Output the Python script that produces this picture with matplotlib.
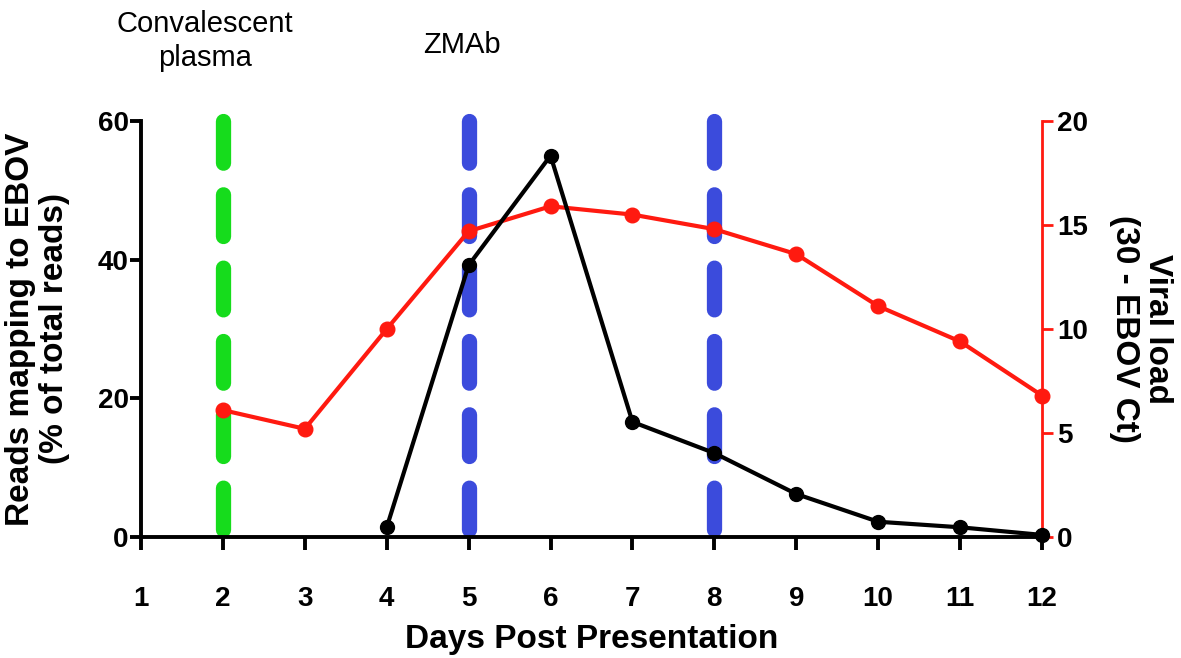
import matplotlib.pyplot as plt

plt.rcParams['font.family'] = ['Liberation Sans', 'DejaVu Sans']

days = [1, 2, 3, 4, 5, 6, 7, 8, 9, 10, 11, 12]
read_days = [4, 5, 6, 7, 8, 9, 10, 11, 12]
reads_pct = [1.4, 39.2, 55.0, 16.6, 12.1, 6.2, 2.2, 1.4, 0.3]
load_days = [2, 3, 4, 5, 6, 7, 8, 9, 10, 11, 12]
viral_load = [6.1, 5.2, 10.0, 14.7, 15.9, 15.5, 14.8, 13.6, 11.1, 9.4, 6.8]
plasma_day = 2
zmab_days = [5, 8]

fig = plt.figure(figsize=(11.81, 6.58), dpi=100)
ax = fig.add_axes([0.1194, 0.1839, 0.7629, 0.6322])
ax2 = ax.twinx()
ax.set_zorder(ax2.get_zorder() + 1)
ax.patch.set_visible(False)

# treatment days as thick dashed lines
dash = (4.3, (2.73, 2.07))
ax2.axvline(plasma_day, color='#16dc1c', lw=11, linestyle=dash,
            dash_capstyle='round', zorder=1, clip_on=False)
for d in zmab_days:
    ax2.axvline(d, color='#3b4bdc', lw=11, linestyle=dash,
                dash_capstyle='round', zorder=1, clip_on=False)

ax2.plot(load_days, viral_load, color='#ff1a10', lw=3, marker='o', ms=10.5,
         zorder=3, clip_on=False)
ax.plot(read_days, reads_pct, color='black', lw=3, marker='o', ms=10,
        zorder=4, clip_on=False)

ax.set_xlim(1, 12)
ax.set_ylim(0, 60)
ax2.set_ylim(0, 20)
ax.set_xticks(days)
ax.set_yticks([0, 20, 40, 60])
ax2.set_yticks([0, 5, 10, 15, 20])

for s in ['top', 'right']:
    ax.spines[s].set_visible(False)
for s in ['top', 'left', 'bottom']:
    ax2.spines[s].set_visible(False)
ax.spines['left'].set_linewidth(2.8)
ax.spines['bottom'].set_linewidth(2.8)
ax2.spines['right'].set_color('#ff1a10')
ax2.spines['right'].set_linewidth(2)

ax.tick_params(axis='x', length=9.5, width=2.8, pad=26, labelsize=20)
ax.tick_params(axis='y', length=8, width=2.8, pad=1, labelsize=20)
ax2.tick_params(axis='y', length=8, width=2, color='#ff1a10', pad=3, labelsize=20)
for lab in ax.get_xticklabels() + ax.get_yticklabels() + ax2.get_yticklabels():
    lab.set_fontweight('bold')

ax.set_xlabel('Days Post Presentation', fontsize=24, fontweight='bold')
ax.xaxis.set_label_coords(0.5, -0.2476)
ax.xaxis.label.set_va('center')

ax.set_ylabel('Reads mapping to EBOV\n(% of total reads)', fontsize=24,
              fontweight='bold', linespacing=1.1)
ax.yaxis.set_label_coords(-0.115, 0.5)
ax.yaxis.label.set_va('center')

ax2.set_ylabel('Viral load\n(30 - EBOV Ct)', fontsize=24, fontweight='bold',
               rotation=270, linespacing=1.1)
ax2.yaxis.set_label_coords(1.110, 0.5)
ax2.yaxis.label.set_va('center')
ax2.yaxis.label.set_ha('center')

fig.text(205 / 1181, 1 - 41 / 658, 'Convalescent\nplasma', fontsize=21,
         ha='center', va='center', linespacing=1.25)
fig.text(462 / 1181, 1 - 45 / 658, 'ZMAb', fontsize=21, ha='center', va='center')

fig.savefig('out.png', dpi=100)
